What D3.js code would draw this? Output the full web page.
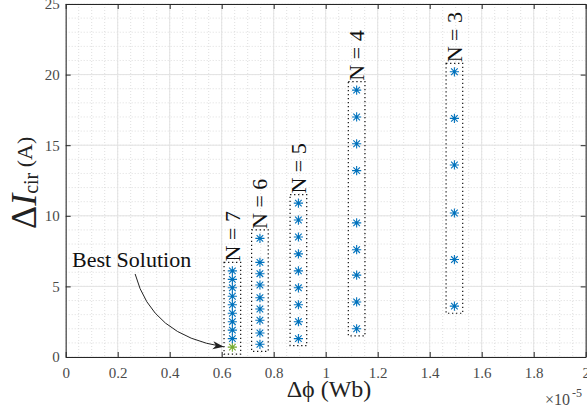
<!DOCTYPE html>
<html>
<head>
<meta charset="utf-8">
<script src="https://cdn.jsdelivr.net/npm/d3@7"></script>
</head>
<body style="margin:0">
<div id="chart"></div>
<script>
// groups: number of windings N, flux difference (x1e-5 Wb) and circulating current values (A)
var groupN = [7, 6, 5, 4, 3];
var groupX = [0.641, 0.747, 0.895, 1.119, 1.495];
var valsN7 = [0.7, 1.3, 1.9, 2.5, 3.1, 3.7, 4.3, 4.9, 5.5, 6.1];
var valsN6 = [0.9, 1.7, 2.6, 3.4, 4.2, 5.1, 5.9, 6.7, 8.4];
var valsN5 = [1.3, 2.5, 3.7, 4.9, 6.1, 7.3, 8.5, 9.7, 10.9];
var valsN4 = [2.0, 3.9, 5.8, 7.6, 9.5, 13.2, 15.1, 17.0, 18.9];
var valsN3 = [3.6, 6.9, 10.2, 13.6, 16.9, 20.2];
var groupVals = [valsN7, valsN6, valsN5, valsN4, valsN3];

// best solution (green marker) and annotation arrow (start, control, end)
var best = { x: 0.641, y: 0.7 };
var arrowPts = [[0.267, 5.88], [0.33, 1.5], [0.608, 0.72]];

var xTicks = [0, 0.2, 0.4, 0.6, 0.8, 1, 1.2, 1.4, 1.6, 1.8, 2];
var yTicks = [0, 5, 10, 15, 20, 25];
var xMinor = d3.range(0, 2.0001, 0.05);
var yMinor = d3.range(0, 25.0001, 1);

var width = 587, height = 415;
var margin = { top: 4, right: 1.3, bottom: 58, left: 65.7 };
var innerW = width - margin.left - margin.right;
var innerH = height - margin.top - margin.bottom;

var blue = "#0072BD", green = "#77AC30";
var serif = "'Liberation Serif'";

var x = d3.scaleLinear().domain([0, 2]).range([0, innerW]);
var y = d3.scaleLinear().domain([0, 25]).range([innerH, 0]);

var svg = d3.select("#chart").append("svg")
    .attr("width", width)
    .attr("height", height);

var g = svg.append("g")
    .attr("transform", "translate(" + margin.left + "," + margin.top + ")");

// minor grid (dotted)
g.append("g").selectAll("line").data(xMinor).enter().append("line")
    .attr("x1", function(d) { return x(d); }).attr("x2", function(d) { return x(d); })
    .attr("y1", 0).attr("y2", innerH)
    .attr("stroke", "#d6d6d6").attr("stroke-width", 0.8)
    .attr("stroke-dasharray", "1,2");
g.append("g").selectAll("line").data(yMinor).enter().append("line")
    .attr("y1", function(d) { return y(d); }).attr("y2", function(d) { return y(d); })
    .attr("x1", 0).attr("x2", innerW)
    .attr("stroke", "#d6d6d6").attr("stroke-width", 0.8)
    .attr("stroke-dasharray", "1,2");

// major grid
g.append("g").selectAll("line").data(xTicks).enter().append("line")
    .attr("x1", function(d) { return x(d); }).attr("x2", function(d) { return x(d); })
    .attr("y1", 0).attr("y2", innerH)
    .attr("stroke", "#e3e3e3").attr("stroke-width", 1);
g.append("g").selectAll("line").data(yTicks).enter().append("line")
    .attr("y1", function(d) { return y(d); }).attr("y2", function(d) { return y(d); })
    .attr("x1", 0).attr("x2", innerW)
    .attr("stroke", "#e3e3e3").attr("stroke-width", 1);

// axes
var fmt = function(d) { return String(+d.toFixed(1)); };
var xAxis = g.append("g").attr("transform", "translate(0," + innerH + ")")
    .call(d3.axisBottom(x).tickValues(xTicks).tickFormat(fmt).tickSize(-5).tickPadding(10).tickSizeOuter(0));
var yAxis = g.append("g")
    .call(d3.axisLeft(y).tickValues(yTicks).tickFormat(fmt).tickSize(-5).tickPadding(6).tickSizeOuter(0));
var xTop = g.append("g")
    .call(d3.axisTop(x).tickValues(xTicks).tickFormat("").tickSize(-5).tickSizeOuter(0));
var yRight = g.append("g").attr("transform", "translate(" + innerW + ",0)")
    .call(d3.axisRight(y).tickValues(yTicks).tickFormat("").tickSize(-5).tickSizeOuter(0));

[xAxis, yAxis, xTop, yRight].forEach(function(a) {
    a.attr("font-family", null).attr("font-size", null);
    a.select(".domain").attr("stroke", "#262626").attr("stroke-width", 1);
    a.selectAll(".tick line").attr("stroke", "#262626");
    a.selectAll("text")
        .attr("font-size", 15)
        .attr("fill", "#4a4a4a")
        .style("font-family", function() { return serif; });
});

// dotted group boxes
var padX = 0.032, padBot = 0.5, padTop = 0.6;
groupN.forEach(function(n, i) {
    var vals = groupVals[i];
    var x0 = groupX[i] - padX, x1 = groupX[i] + padX;
    var y0 = d3.min(vals) - padBot, y1 = d3.max(vals) + padTop;
    g.append("rect")
        .attr("x", x(x0)).attr("y", y(y1))
        .attr("width", x(x1) - x(x0)).attr("height", y(y0) - y(y1))
        .attr("fill", "none").attr("stroke", "#111")
        .attr("stroke-width", 1.2).attr("stroke-dasharray", "1.3,2.7");
});

// N labels above the boxes
g.append("g").selectAll("text").data(groupN).enter().append("text")
    .attr("transform", function(n, i) {
        return "translate(" + (x(groupX[i]) + 7.5) + "," + (y(d3.max(groupVals[i]) + padTop) - 1) + ") rotate(-90)";
    })
    .attr("font-size", 22)
    .attr("fill", "#111")
    .style("font-family", function() { return serif; })
    .text(function(n) { return "N = " + n; });

// asterisk markers
var r = 4.6, dd = r * 0.72;
var star = "M" + (-r) + ",0H" + r + "M0," + (-r) + "V" + r +
    "M" + (-dd) + "," + (-dd) + "L" + dd + "," + dd +
    "M" + (-dd) + "," + dd + "L" + dd + "," + (-dd);

groupN.forEach(function(n, i) {
    g.append("g").selectAll("path").data(groupVals[i]).enter().append("path")
        .attr("transform", function(d) { return "translate(" + x(groupX[i]) + "," + y(d) + ")"; })
        .attr("d", star)
        .attr("fill", "none")
        .attr("stroke", function(d) { return (groupX[i] === best.x && d === best.y) ? green : blue; })
        .attr("stroke-width", 1.1);
});

// annotation: curved arrow, head drawn as a small polygon at the end
var p0 = [x(arrowPts[0][0]), y(arrowPts[0][1])];
var p1 = [x(arrowPts[1][0]), y(arrowPts[1][1])];
var p2 = [x(arrowPts[2][0]), y(arrowPts[2][1])];
g.append("path")
    .attr("d", "M" + p0 + "Q" + p1 + " " + p2)
    .attr("fill", "none").attr("stroke", "#222").attr("stroke-width", 1);
var ang = Math.atan2(p2[1] - p1[1], p2[0] - p1[0]) * 180 / Math.PI;
g.append("path")
    .attr("transform", "translate(" + p2 + ") rotate(" + ang + ")")
    .attr("d", "M0,0L-11,-4L-8,0L-11,4Z")
    .attr("fill", "#222");

// text labels
var labels = [
    { t: "Best Solution", x: 72, y: 267, size: 22, fill: "#111", anchor: "start", rot: 0 },
    { t: "Δϕ (Wb)", x: 329, y: 397, size: 24, fill: "#222", anchor: "middle", rot: 0 },
    { t: "×10", x: 545, y: 405, size: 16, fill: "#4a4a4a", anchor: "start", rot: 0 },
    { t: "-5", x: 572, y: 397, size: 12, fill: "#4a4a4a", anchor: "start", rot: 0 }
];
svg.append("g").selectAll("text").data(labels).enter().append("text")
    .attr("transform", function(d) { return "translate(" + d.x + "," + d.y + ") rotate(" + d.rot + ")"; })
    .attr("text-anchor", function(d) { return d.anchor; })
    .attr("font-size", function(d) { return d.size; })
    .attr("fill", function(d) { return d.fill; })
    .style("font-family", function() { return serif; })
    .text(function(d) { return d.t; });

svg.append("text")
    .attr("transform", "translate(36,229) rotate(-90)")
    .attr("fill", "#222")
    .style("font-family", serif)
    .html("<tspan font-size='36'>Δ</tspan><tspan font-size='36' font-style='italic'>I</tspan>" +
        "<tspan font-size='20' dy='2'>cir</tspan>" +
        "<tspan font-size='22' dy='-6'> (A)</tspan>");
</script>
</body>
</html>
